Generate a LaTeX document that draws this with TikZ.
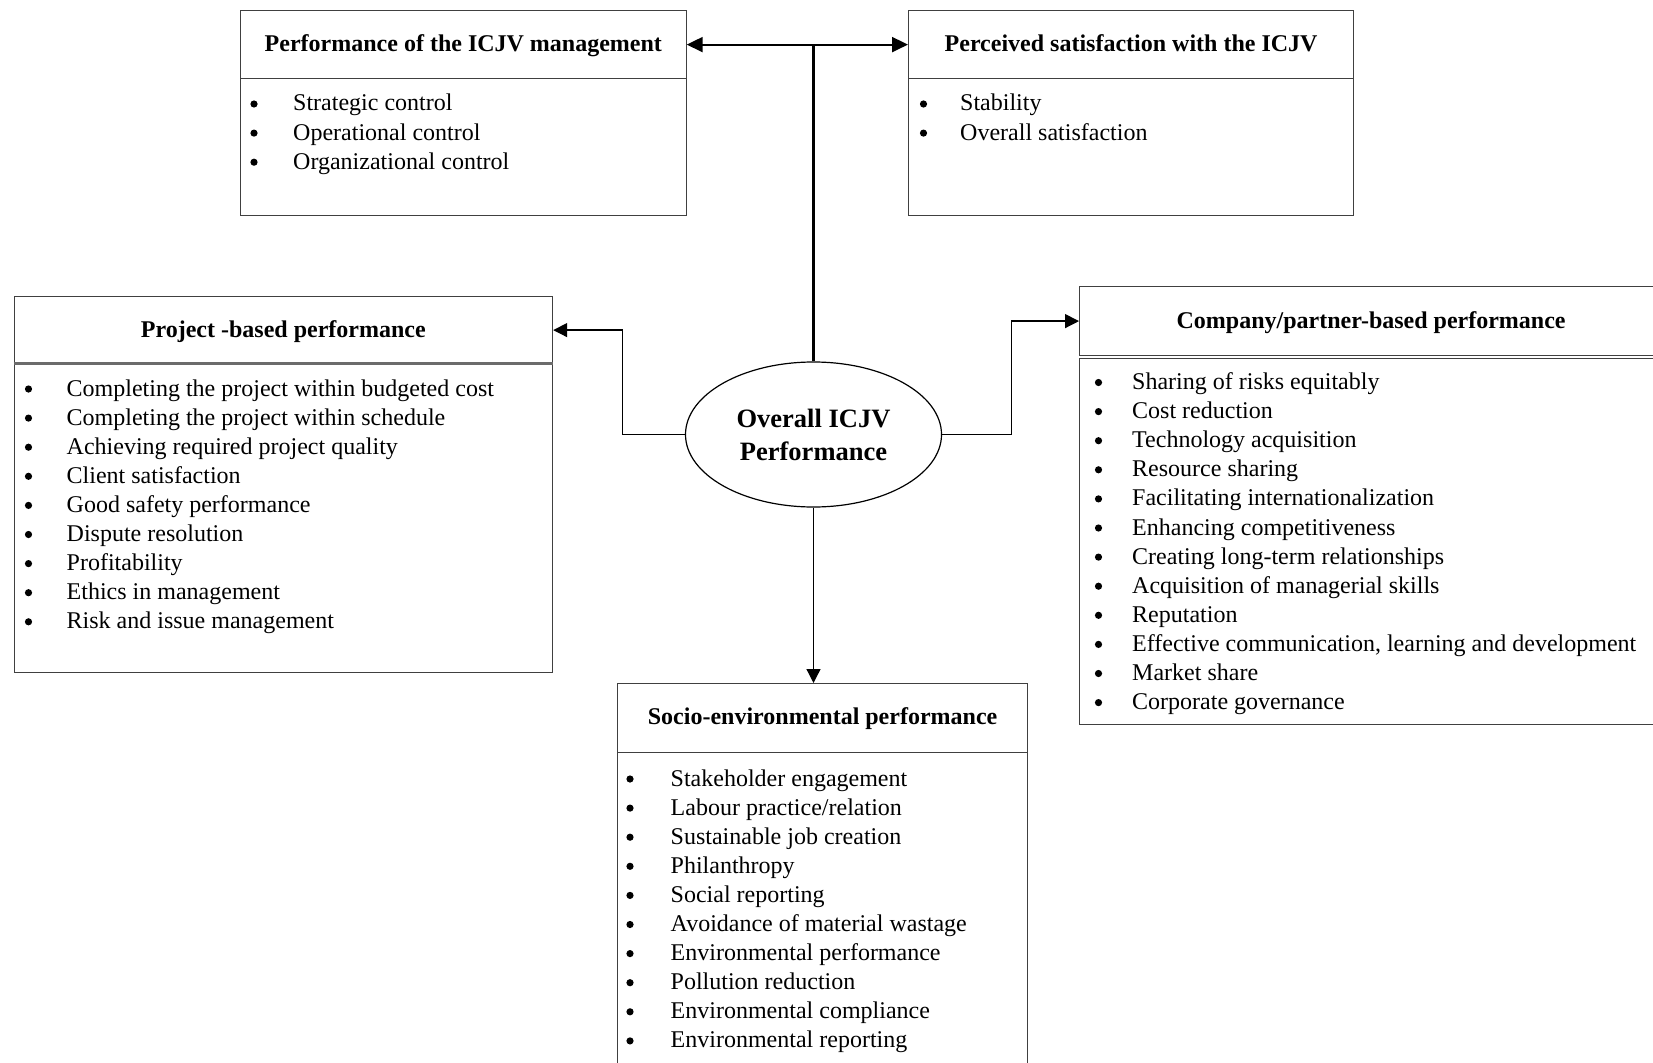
\documentclass[tikz,border=0pt]{standalone}
\usepackage{fontspec}
\setmainfont{Liberation Serif}
\usetikzlibrary{arrows.meta,shapes.geometric}

\definecolor{boxgray}{gray}{0.25}
\definecolor{rulegray}{gray}{0.42}

\tikzset{
  frame/.style={draw=boxgray, line width=1.2pt, inner sep=0pt, anchor=north west},
  headbox/.style={frame, font=\fontsize{24}{29}\selectfont\bfseries, text height=18pt, text depth=4pt},
  entry/.style={font=\fontsize{24}{29}\selectfont, inner sep=0pt, anchor=base west},
  link/.style={line width=1.3pt, -{Triangle[length=14pt,width=14pt]}},
  mainlink/.style={line width=2.4pt},
}

% one bulleted column: prefix, bullet x, text x, first baseline, entries
\newcommand{\bulletrows}[5]{%
  \foreach \txt [count=\k] in {#5} {
    \pgfmathsetmacro{\yb}{#4+(\k-1)*29.1}
    \node[entry] (#1\k) at (#3,\yb) {\txt};
    \fill (#2,\yb-7) circle (3.6pt);
  }%
}

\begin{document}
\begin{tikzpicture}[x=1pt,y=-1pt]
\useasboundingbox (0,0) rectangle (1653,1062);
\clip (0,0) rectangle (1653,1062);

% --- performance of the management
\node[headbox, minimum width=445.5pt, minimum height=68pt] (tlh) at (240,10) {Performance of the ICJV management};
\node[frame, minimum width=445.5pt, minimum height=137pt] (tlb) at (240,78) {};
\bulletrows{tl}{254}{293}{111}{Strategic control, Operational control, Organizational control}

% --- perceived satisfaction
\node[headbox, minimum width=445pt, minimum height=68pt] (trh) at (908,10) {Perceived satisfaction with the ICJV};
\node[frame, minimum width=445pt, minimum height=137pt] (trb) at (908,78) {};
\bulletrows{tr}{923.5}{960}{111}{Stability, Overall satisfaction}

% --- project-based performance
\node[headbox, minimum width=538.5pt, minimum height=67pt] (lh) at (13.5,296) {Project -based performance};
\node[frame, minimum width=538.5pt, minimum height=309pt] (lb) at (13.5,363) {};
\draw[rulegray, line width=3pt] (lb.north west) -- (lb.north east);
\bulletrows{l}{28.5}{66.5}{396}{Completing the project within budgeted cost, Completing the project within schedule, Achieving required project quality, Client satisfaction, Good safety performance, Dispute resolution, Profitability, Ethics in management, Risk and issue management}

% --- company/partner-based performance
\node[headbox, minimum width=583pt, minimum height=69pt] (rh) at (1079,286) {Company/partner-based performance};
\node[frame, minimum width=583pt, minimum height=366.5pt] (rb) at (1079,357.5) {};
\bulletrows{r}{1098.5}{1132}{389.5}{Sharing of risks equitably, Cost reduction, Technology acquisition, Resource sharing, Facilitating internationalization, Enhancing competitiveness, Creating long-term relationships, Acquisition of managerial skills, Reputation, {Effective communication, learning and development}, Market share, Corporate governance}

% --- socio-environmental performance
\node[headbox, minimum width=410pt, minimum height=68.5pt] (bh) at (617,683) {Socio-environmental performance};
\node[frame, minimum width=410pt, minimum height=330pt] (bb) at (617,751.5) {};
\bulletrows{b}{630}{670.5}{786}{Stakeholder engagement, Labour practice/relation, Sustainable job creation, Philanthropy, Social reporting, Avoidance of material wastage, Environmental performance, Pollution reduction, Environmental compliance, Environmental reporting}

% --- central ellipse
\node[ellipse, draw=black, line width=1.2pt, minimum width=256pt, minimum height=145pt,
      inner sep=0pt, align=center, font=\fontsize{26.5}{33}\selectfont\bfseries] (core) at (813.5,434.5)
      {Overall ICJV\\Performance};

% --- connectors
\coordinate (hub) at (core.north |- tlh.east);
\draw[mainlink] (core.north) -- (hub);
\draw[line width=2pt, {Triangle[length=16pt,width=15pt]}-{Triangle[length=16pt,width=15pt]}] (tlh.east) -- (trh.west);
\draw[link] (core.west) -- ++(-62.5,0) |- (lh.east);
\draw[link] (core.east) -- ++(69.5,0) |- (rh.west);
\draw[link] (core.south) -- (core.south |- bh.north);
\end{tikzpicture}
\end{document}
